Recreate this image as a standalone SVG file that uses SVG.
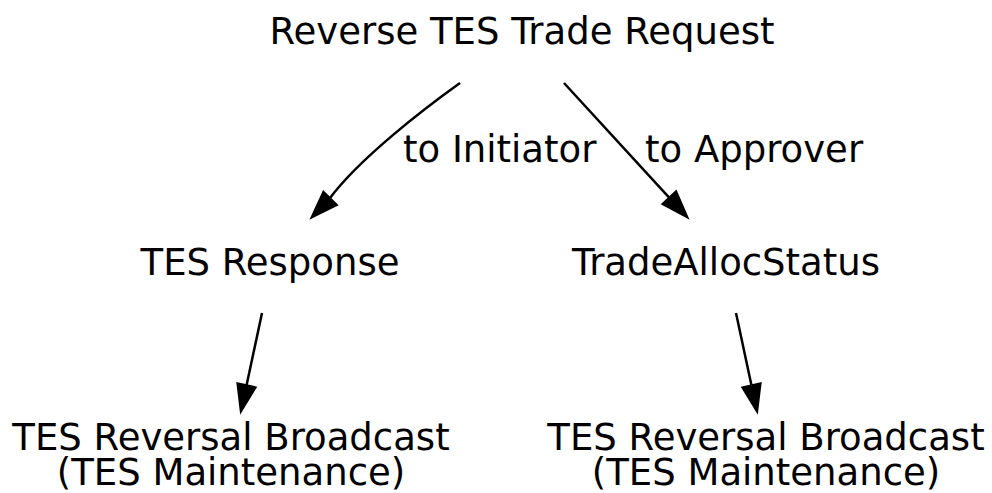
<svg xmlns="http://www.w3.org/2000/svg" width="992" height="493" viewBox="0 0 992 493">
<style>
text{font-family:"DejaVu Sans",sans-serif;font-size:37px;fill:#000}
.n{text-anchor:middle}
.e{fill:none;stroke:#000;stroke-width:2.5}
.h{fill:#000;stroke:#000;stroke-width:2.5;stroke-linejoin:miter}
</style>
<rect width="992" height="493" fill="#fff"/>
<g id="connectors">
<path class="e" d="M460,83 C425,108 360,158 330,198"/>
<polygon class="h" points="312,217 323.5,192.2 336.5,204.8"/>
<text x="403" y="162">to Initiator</text>
<path class="e" d="M564,83 L669.4,197.8"/>
<polygon class="h" points="687,217 662.8,203.9 676,191.7"/>
<text x="645" y="162">to Approver</text>
<path class="e" d="M262,313 L246.5,385.6"/>
<polygon class="h" points="241,411 237.7,383.7 255.3,387.5"/>
<path class="e" d="M736,313 L751.5,385.6"/>
<polygon class="h" points="757,411 742.7,387.5 760.3,383.7"/>
</g>
<g id="reverse"><text class="n" x="522" y="44">Reverse TES Trade Request</text></g>
<g id="tesresponse"><text class="n" x="270" y="275">TES Response</text></g>
<g id="tradeallocstatus"><text class="n" x="726" y="275">TradeAllocStatus</text></g>
<g id="broadcast1"><text class="n" x="231" y="450">TES Reversal Broadcast</text><text class="n" x="231" y="485">(TES Maintenance)</text></g>
<g id="broadcast2"><text class="n" x="766" y="450">TES Reversal Broadcast</text><text class="n" x="766" y="485">(TES Maintenance)</text></g>
</svg>
